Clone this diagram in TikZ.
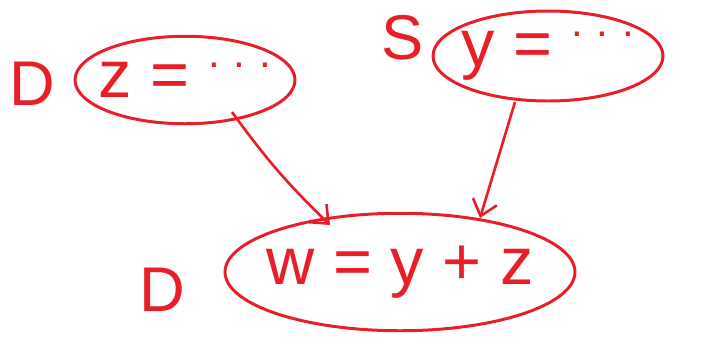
\documentclass[tikz,border=0pt]{standalone}
\usepackage{fontspec}
\setmainfont{Liberation Sans}
\usetikzlibrary{arrows.meta,positioning,shapes.geometric}
\definecolor{pen}{RGB}{232,30,40}
\newcommand{\sketchdots}{\raisebox{0.45em}{\fontsize{24}{24}\selectfont.\,\,.\,\,.}}

\begin{document}
\begin{tikzpicture}[
  x=0.02cm, y=-0.02cm,
  node distance=0.4cm,
  blob/.style={draw=pen, ellipse, line width=1.7pt, inner xsep=-0.3cm, inner ysep=0pt,
    text=pen, font=\fontsize{38}{42}\selectfont},
  tag/.style={text=pen, font=\fontsize{36}{40}\selectfont},
  arrow/.style={-{Straight Barb[length=3mm, width=5mm]}, draw=pen, line width=1.5pt}
]
\useasboundingbox (0,0) rectangle (716,343);
\node[blob, minimum width=4.4cm, minimum height=1.75cm] (zdef) at (185,80) {z = \sketchdots};
\node[blob, minimum width=4.6cm, minimum height=1.8cm] (ydef) at (548,56) {y = \sketchdots};
\node[blob, minimum width=7cm, minimum height=2.35cm] (wdef) at (400,272) {w = y + z};

\node[tag] (dz) at (32,84) {D};
\node[tag] (sy) at (403,38) {S};
\node[tag] (dw) at (162,290) {D};

\coordinate (zout) at (232,112);
\coordinate (zin) at (330,225);
\coordinate (yout) at (515,102);
\coordinate (yin) at (480,218);
\draw[arrow] (zout) to[bend right=5] (zin);
\draw[arrow] (yout) -- (yin);
\end{tikzpicture}
\end{document}
